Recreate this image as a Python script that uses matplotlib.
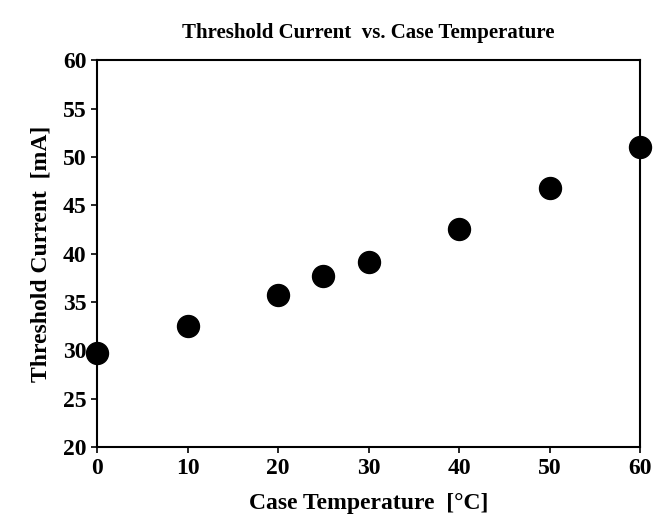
import matplotlib
matplotlib.use("Agg")
import matplotlib.pyplot as plt

temps = [0, 10, 20, 25, 30, 40, 50, 60]
currents = [29.7, 32.5, 35.7, 37.7, 39.1, 42.6, 46.8, 51.0]

plt.rcParams['font.family'] = 'Liberation Serif'
plt.rcParams['font.weight'] = 'bold'

fig = plt.figure(figsize=(6.56, 5.28), dpi=100)
ax = fig.add_axes([0.148, 0.153, 0.828, 0.733])
ax.scatter(temps, currents, s=250, color='black', zorder=3, clip_on=False)
ax.set_xlim(0, 60)
ax.set_ylim(20, 60)
ax.set_xticks([0, 10, 20, 30, 40, 50, 60])
ax.set_yticks(range(20, 61, 5))
ax.tick_params(labelsize=17, direction='out', length=4, width=1.2)
for s in ax.spines.values():
    s.set_linewidth(1.5)
ax.set_xlabel('Case Temperature  [°C]', fontsize=17, fontweight='bold', labelpad=10)
ax.set_ylabel('Threshold Current  [mA]', fontsize=17, fontweight='bold', labelpad=8)
ax.set_title('Threshold Current  vs. Case Temperature', fontsize=15, fontweight='bold', pad=16)
fig.savefig('out.png', dpi=100)
